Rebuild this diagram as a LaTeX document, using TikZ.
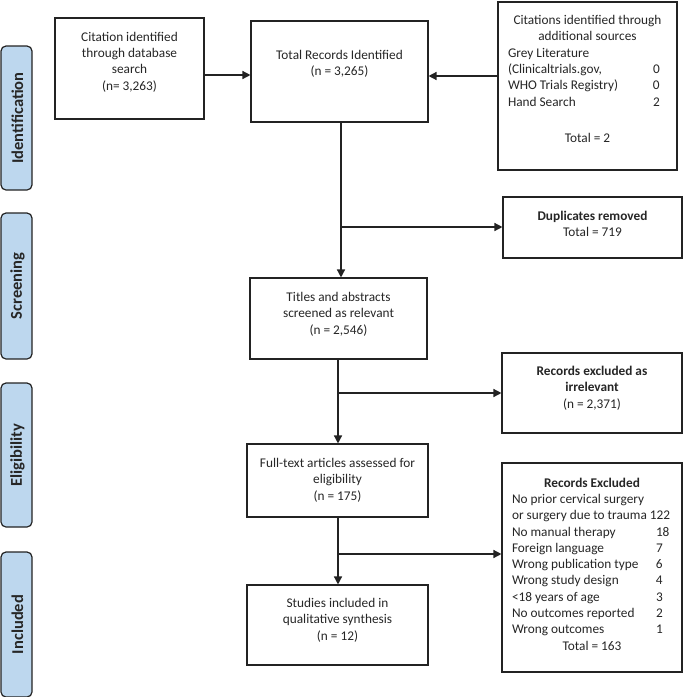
\documentclass[tikz,border=0pt]{standalone}
\usepackage{fontspec}
\setmainfont{Carlito}
\usetikzlibrary{arrows.meta}
\definecolor{phasefill}{RGB}{189,215,238}
\definecolor{linec}{RGB}{35,35,35}
\begin{document}
\begin{tikzpicture}[x=1pt,y=-1pt,
  box/.style={draw=linec, line width=1.1pt, inner sep=0pt, fill=white},
  txt/.style={inner sep=0pt, align=center, font=\fontsize{13.3pt}{16.3pt}\selectfont, text=black!85},
  phase/.style={draw=linec, line width=1.2pt, fill=phasefill, rounded corners=5pt, minimum width=31pt, inner sep=0pt},
  phasetxt/.style={rotate=90, inner sep=0pt, font=\fontsize{16.5pt}{19pt}\selectfont\bfseries, text=black!85},
  arr/.style={draw=linec, line width=1.4pt, -{Triangle[length=8pt,width=8pt]}},
  ln/.style={draw=linec, line width=1.4pt}]
\useasboundingbox (0,0) rectangle (685,697);

% phase labels
\node[phase, minimum height=144pt] (pI) at (16.5,118) {};
\node[phasetxt] (pIt) at (17.5,118) {Identification};
\node[phase, minimum height=146pt] (pS) at (16.5,286) {};
\node[phasetxt] (pSt) at (17.5,286) {Screening};
\node[phase, minimum height=144pt] (pE) at (16.5,455) {};
\node[phasetxt] (pEt) at (17.5,455) {Eligibility};
\node[phase, minimum height=145pt] (pN) at (16.5,624.5) {};
\node[phasetxt] (pNt) at (17.5,624.5) {Included};

% boxes
\node[box, minimum width=149pt, minimum height=101pt] (cit) at (129.5,68.5) {};
\node[txt] (citT) at (129.5,62) {Citation identified\\through database\\search\\(n= 3,263)};

\node[box, minimum width=177pt, minimum height=101pt] (tot) at (339.5,71.5) {};
\node[txt] (totT) at (339.5,64) {Total Records Identified\\(n = 3,265)};

\node[box, minimum width=179pt, minimum height=168pt] (add) at (587.5,86) {};
\node[txt] (addT) at (587.5,79) {Citations identified through\\additional sources\\
  \makebox[159pt][l]{Grey Literature}\\
  \makebox[159pt][l]{\makebox[145pt][l]{(Clinicaltrials.gov,}0}\\
  \makebox[159pt][l]{\makebox[145pt][l]{WHO Trials Registry)}0}\\
  \makebox[159pt][l]{\makebox[145pt][l]{Hand Search}2}\\[20pt]
  Total = 2};

\node[box, minimum width=179pt, minimum height=61pt] (dup) at (592.5,227.5) {};
\node[txt] (dupT) at (592.5,224) {\textbf{Duplicates removed}\\Total = 719};

\node[box, minimum width=177pt, minimum height=81pt] (tit) at (338.5,318.5) {};
\node[txt] (titT) at (338.5,314) {Titles and abstracts\\screened as relevant\\(n = 2,546)};

\node[box, minimum width=180pt, minimum height=80pt] (irr) at (592,393) {};
\node[txt] (irrT) at (592,388) {\textbf{Records excluded as}\\\textbf{irrelevant}\\(n = 2,371)};

\node[box, minimum width=181pt, minimum height=73pt] (ful) at (337.5,480.5) {};
\node[txt] (fulT) at (337.5,480) {Full-text articles assessed for\\eligibility\\(n = 175)};

\node[box, minimum width=180pt, minimum height=209pt] (exc) at (592,567.5) {};
\node[txt] (excT) at (592,564) {\textbf{Records Excluded}\\
  \makebox[160pt][l]{No prior cervical surgery}\\
  \makebox[160pt][l]{or surgery due to trauma 122}\\
  \makebox[160pt][l]{\makebox[144pt][l]{No manual therapy}18}\\
  \makebox[160pt][l]{\makebox[144pt][l]{Foreign language}7}\\
  \makebox[160pt][l]{\makebox[144pt][l]{Wrong publication type}6}\\
  \makebox[160pt][l]{\makebox[144pt][l]{Wrong study design}4}\\
  \makebox[160pt][l]{\makebox[144pt][l]{<18 years of age}3}\\
  \makebox[160pt][l]{\makebox[144pt][l]{No outcomes reported}2}\\
  \makebox[160pt][l]{\makebox[144pt][l]{Wrong outcomes}1}\\
  Total = 163};

\node[box, minimum width=181pt, minimum height=80pt] (stu) at (337.5,625) {};
\node[txt] (stuT) at (337.5,620) {Studies included in\\qualitative synthesis\\(n = 12)};

% connectors
\draw[arr] (cit.east |- 0,75) -- (tot.west |- 0,75);
\draw[arr] (add.west |- 0,76) -- (tot.east |- 0,76);

\coordinate (j1) at (341,227);
\draw[arr] (tot.south -| j1) -- (tit.north -| j1);
\draw[arr] (j1) -- (dup.west |- j1);

\coordinate (j2) at (338,393);
\draw[arr] (tit.south -| j2) -- (ful.north -| j2);
\draw[arr] (j2) -- (irr.west |- j2);

\coordinate (j3) at (338,554);
\draw[arr] (ful.south -| j3) -- (stu.north -| j3);
\draw[arr] (j3) -- (exc.west |- j3);
\end{tikzpicture}
\end{document}
